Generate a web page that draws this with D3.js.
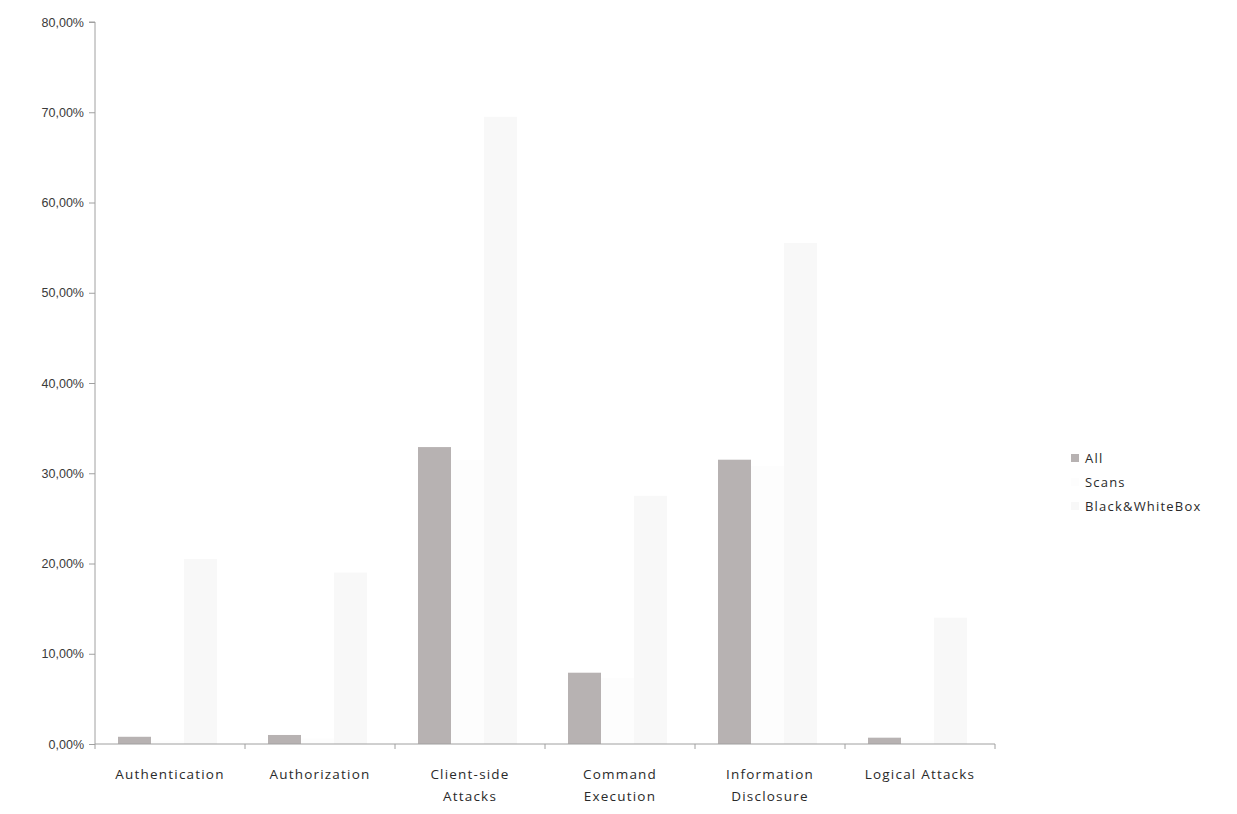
<!DOCTYPE html>
<html>
<head>
<meta charset="utf-8">
<script src="https://cdn.jsdelivr.net/npm/d3@7"></script>
<style>
  html, body { margin: 0; padding: 0; background: #ffffff; }
  svg { display: block; font-family: "Open Sans", "DejaVu Sans", sans-serif; }
</style>
</head>
<body>
<svg id="chart" width="1237" height="814"></svg>
<script>
// Categories of attack (two-line labels where the category wraps)
const categories = ["Authentication", "Authorization", "Client-side Attacks",
                    "Command Execution", "Information Disclosure", "Logical Attacks"];
const categoryLines = [["Authentication"], ["Authorization"], ["Client-side", "Attacks"],
                       ["Command", "Execution"], ["Information", "Disclosure"], ["Logical Attacks"]];

// Share of vulnerabilities per category (percent)
const allValues   = [0.8, 1.0, 32.9, 7.9, 31.5, 0.7];
const scansValues = [0.4, 0.6, 31.5, 7.3, 30.8, 0.4];
const bwValues    = [20.5, 19.0, 69.5, 27.5, 55.5, 14.0];

const seriesNames = ["All", "Scans", "Black&WhiteBox"];
const yTicks = [0, 10, 20, 30, 40, 50, 60, 70, 80];

const series = [
  { name: seriesNames[0], values: allValues,   color: "#b7b2b2" },
  { name: seriesNames[1], values: scansValues, color: "#fdfdfd" },
  { name: seriesNames[2], values: bwValues,    color: "#f8f8f8" }
];

const svg = d3.select("#chart");
const margin = { left: 95, top: 22 };
const plotRight = 995, plotBottom = 744;

const x = d3.scaleBand().domain(categories).range([margin.left, plotRight]).padding(0);
const inner = d3.scaleBand().domain(seriesNames)
  .range([23, x.bandwidth() - 28]).padding(0);
const y = d3.scaleLinear().domain([0, 80]).range([plotBottom, margin.top]);

// Bars
series.forEach(s => {
  svg.append("g").selectAll("rect")
    .data(categories.map((c, i) => ({ c, v: s.values[i] })))
    .join("rect")
    .attr("x", d => x(d.c) + inner(s.name))
    .attr("y", d => y(d.v))
    .attr("width", inner.bandwidth())
    .attr("height", d => y(0) - y(d.v))
    .attr("fill", s.color);
});

// Y axis
const fmt = v => v.toFixed(2).replace(".", ",") + "%";
const yAxis = svg.append("g")
  .attr("transform", `translate(${margin.left},0)`)
  .call(d3.axisLeft(y).tickValues(yTicks).tickFormat(fmt).tickSize(6).tickPadding(5));
yAxis.select(".domain").attr("stroke", "#a0a0a0").attr("d", `M-6,${y(80)}H0V${y(0)}`);
yAxis.selectAll(".tick line").attr("stroke", "#a0a0a0");
yAxis.selectAll(".tick text").attr("fill", "#3a3a3a").style("font-size", "12.5px");

// X axis with ticks at category boundaries
svg.append("line")
  .attr("x1", margin.left).attr("x2", plotRight)
  .attr("y1", plotBottom).attr("y2", plotBottom)
  .attr("stroke", "#a0a0a0");
const boundaries = categories.map(c => x(c)).concat([plotRight]);
svg.append("g").selectAll("line").data(boundaries).join("line")
  .attr("x1", d => d).attr("x2", d => d)
  .attr("y1", plotBottom).attr("y2", plotBottom + 5)
  .attr("stroke", "#a0a0a0");

// Category labels
const labels = svg.append("g").selectAll("text")
  .data(categories.map((c, i) => ({ c, lines: categoryLines[i] })))
  .join("text")
  .attr("x", d => x(d.c) + x.bandwidth() / 2)
  .attr("y", 779)
  .attr("text-anchor", "middle")
  .attr("fill", "#2a2a2a")
  .style("font-size", "13.5px")
  .style("letter-spacing", "1.2px");
labels.selectAll("tspan").data(d => d.lines).join("tspan")
  .attr("x", function () { return d3.select(this.parentNode).attr("x"); })
  .attr("dy", (d, i) => i === 0 ? 0 : 22)
  .text(d => d);

// Legend
const legend = svg.append("g").attr("transform", "translate(1071,458)");
series.forEach((s, i) => {
  const g = legend.append("g").attr("transform", `translate(0,${i * 24})`);
  g.append("rect").attr("x", 0).attr("y", -4).attr("width", 8).attr("height", 8)
    .attr("fill", s.color);
  g.append("text").attr("x", 14).attr("y", 5)
    .attr("fill", "#2a2a2a").style("font-size", "13px")
    .style("letter-spacing", "1.2px").text(s.name);
});
</script>
</body>
</html>
